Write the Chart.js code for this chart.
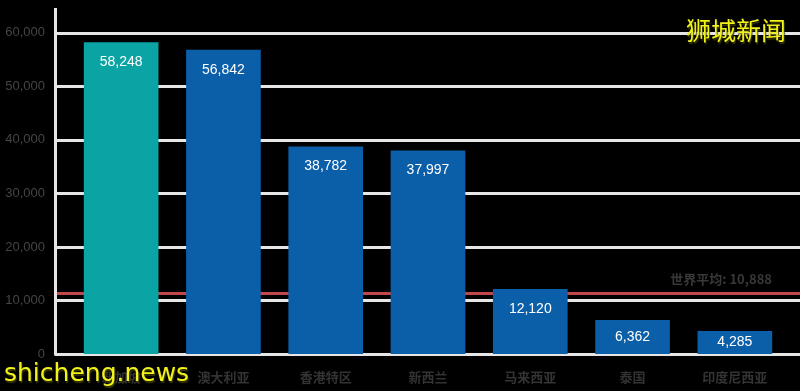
<!DOCTYPE html>
<html lang="zh-CN">
<head>
<meta charset="UTF-8">
<title>人均GDP</title>
<script src="https://cdn.jsdelivr.net/npm/chart.js"></script>
<style>
    html, body { margin: 0; padding: 0; background: #000; }
    #box { width: 800px; height: 391px; position: relative; }
</style>
</head>
<body>
<div id="box"><canvas id="grafico"></canvas></div>
<script>
    // dados
    var paises = ['新加坡', '澳大利亚', '香港特区', '新西兰', '马来西亚', '泰国', '印度尼西亚']
    var valores = [58248, 56842, 38782, 37997, 12120, 6362, 4285]
    var cores = ['#0aa4a4', '#0b5ea8', '#0b5ea8', '#0b5ea8', '#0b5ea8', '#0b5ea8', '#0b5ea8']
    var ticksY = [0, 10000, 20000, 30000, 40000, 50000, 60000]
    var mediaMundial = 11300
    var textoMedia = '世界平均: 10,888'

    var fmt = v => v.toLocaleString('en-US')

    // grades, eixo e linha da media (atras das barras)
    const fundo = {
        id: 'fundo',
        beforeDatasetsDraw(chart) {
            const c = chart.ctx, y = chart.scales.y
            c.save()
            c.lineWidth = 3
            c.strokeStyle = '#e6e6e6'
            ticksY.forEach(t => {
                var py = Math.round(y.getPixelForValue(t)) + 0.5
                c.beginPath(); c.moveTo(55, py); c.lineTo(800, py); c.stroke()
            })
            c.beginPath(); c.moveTo(55.5, 8); c.lineTo(55.5, y.getPixelForValue(0) + 1.5); c.stroke()
            var pm = y.getPixelForValue(mediaMundial)
            c.strokeStyle = '#c2474b'
            c.beginPath(); c.moveTo(57, pm); c.lineTo(800, pm); c.stroke()
            c.fillStyle = '#383838'
            c.font = 'bold 13px "Noto Sans CJK SC", sans-serif'
            c.textAlign = 'right'; c.textBaseline = 'middle'
            c.fillText(textoMedia, 772, pm - 14)
            c.restore()
        }
    }

    // valores dentro das barras + marcas d'agua
    const rotulos = {
        id: 'rotulos',
        afterDraw(chart) {
            const c = chart.ctx
            c.save()
            c.fillStyle = '#ffffff'
            c.font = '14px "Liberation Sans", sans-serif'
            c.textAlign = 'center'; c.textBaseline = 'middle'
            chart.getDatasetMeta(0).data.forEach((bar, i) => {
                var py = Math.min(bar.y + 20, (bar.y + bar.base) / 2)
                c.fillText(fmt(valores[i]), bar.x, py)
            })
            c.shadowColor = 'rgba(60,60,0,0.9)'
            c.shadowOffsetX = 1; c.shadowOffsetY = 2; c.shadowBlur = 1
            c.fillStyle = '#f2f21c'
            c.textAlign = 'left'; c.textBaseline = 'alphabetic'
            c.font = '25px "DejaVu Sans", sans-serif'
            c.fillText('shicheng.news', 4, 381)
            c.font = '25px "Noto Sans CJK SC", sans-serif'
            c.textAlign = 'right'; c.textBaseline = 'middle'
            c.fillText('狮城新闻', 786, 30)
            c.restore()
        }
    }

    new Chart(document.getElementById('grafico'), {
        type: 'bar',
        data: {
            labels: paises,
            datasets: [{
                data: valores,
                backgroundColor: cores,
                borderWidth: 0,
                categoryPercentage: 1,
                barPercentage: 0.73
            }]
        },
        options: {
            responsive: true,
            maintainAspectRatio: false,
            animation: false,
            layout: { padding: { top: 32, right: 14, left: 0, bottom: 0 } },
            plugins: { legend: { display: false }, tooltip: { enabled: false } },
            scales: {
                x: {
                    grid: { display: false },
                    border: { display: false },
                    ticks: {
                        color: '#333333',
                        font: { size: 13, weight: 'bold', family: '"Noto Sans CJK SC", sans-serif' },
                        padding: 7
                    },
                    afterFit(s) { s.height = 37 }
                },
                y: {
                    min: 0,
                    max: 60000,
                    grid: { display: false, drawTicks: false },
                    border: { display: false },
                    afterBuildTicks(s) { s.ticks = ticksY.map(v => ({ value: v })) },
                    ticks: {
                        color: '#444444',
                        font: { size: 13, family: '"Liberation Sans", sans-serif' },
                        padding: 25,
                        callback: v => fmt(v)
                    },
                    afterFit(s) { s.width = 70 }
                }
            }
        },
        plugins: [fundo, rotulos]
    })
</script>
</body>
</html>
